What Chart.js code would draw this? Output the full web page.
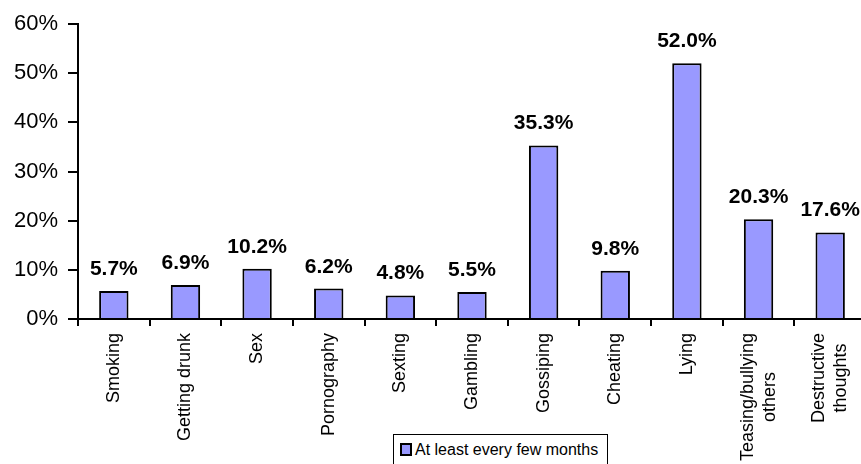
<!DOCTYPE html>
<html>
<head>
<meta charset="utf-8">
<script src="https://cdn.jsdelivr.net/npm/chart.js@4.4.0/dist/chart.umd.min.js"></script>
<style>
  html, body { margin: 0; padding: 0; background: #fff; overflow: hidden; }
  #wrap { position: absolute; left: 0; top: 0; width: 870px; height: 464px; }
  #legend {
    position: absolute; left: 393px; top: 434px; width: 215px; height: 34px;
    border: 1px solid #000; box-sizing: border-box; background: #fff;
    font-family: "Liberation Sans", Arial, sans-serif; font-size: 16px; color: #000;
  }
  #legend .sw {
    position: absolute; left: 6px; top: 8px; width: 8px; height: 9px;
    background: #9999FF; border: 2px solid #000;
  }
  #legend .txt { position: absolute; left: 21px; top: 6px; white-space: nowrap; }
</style>
</head>
<body>
<div id="wrap"><canvas id="chart"></canvas></div>
<div id="legend"><span class="sw"></span><span class="txt">At least every few months</span></div>
<script>
// Categories and values (percent)
const categories = [
    ['Smoking'], ['Getting drunk'], ['Sex'], ['Pornography'], ['Sexting'],
    ['Gambling'], ['Gossiping'], ['Cheating'], ['Lying'],
    ['Teasing/bullying', 'others'], ['Destructive', 'thoughts']
];
const values = [5.7, 6.9, 10.2, 6.2, 4.8, 5.5, 35.3, 9.8, 52.0, 20.3, 17.6];
const seriesName = 'At least every few months';
const yTicks = [0, 10, 20, 30, 40, 50, 60];

const FONT = '"Liberation Sans", Arial, sans-serif';

// Value labels above the bars
const valueLabels = {
    id: 'valueLabels',
    afterDatasetsDraw(chart) {
        const ctx = chart.ctx;
        const meta = chart.getDatasetMeta(0);
        ctx.save();
        ctx.font = 'bold 21px ' + FONT;
        ctx.fillStyle = '#000';
        ctx.textAlign = 'center';
        ctx.textBaseline = 'alphabetic';
        meta.data.forEach((bar, i) => {
            ctx.fillText(values[i].toFixed(1) + '%', bar.x, bar.y - 16);
        });
        ctx.restore();
    }
};

// Rotated category labels, extra lines centred on the longest one
const xLabels = {
    id: 'xLabels',
    afterDraw(chart) {
        const ctx = chart.ctx;
        const xScale = chart.scales.x;
        const top = chart.chartArea.bottom + 14;
        const lineH = 22;
        ctx.save();
        ctx.font = '18px ' + FONT;
        ctx.fillStyle = '#000';
        ctx.textAlign = 'center';
        ctx.textBaseline = 'middle';
        categories.forEach((lines, i) => {
            const cx = xScale.getPixelForValue(i);
            const maxW = Math.max(...lines.map(l => ctx.measureText(l).width));
            ctx.save();
            ctx.translate(cx, top);
            ctx.rotate(-Math.PI / 2);
            lines.forEach((l, j) => {
                ctx.fillText(l, -maxW / 2, (j - (lines.length - 1) / 2) * lineH);
            });
            ctx.restore();
        });
        ctx.restore();
    }
};

new Chart(document.getElementById('chart'), {
    type: 'bar',
    data: {
        labels: categories.map(c => c.join(' ')),
        datasets: [{
            label: seriesName,
            data: values,
            backgroundColor: '#9999FF',
            borderColor: '#000',
            borderWidth: 2,
            borderSkipped: 'bottom',
            barPercentage: 0.41,
            categoryPercentage: 1
        }]
    },
    options: {
        responsive: true,
        maintainAspectRatio: false,
        animation: false,
        layout: { padding: { top: 24, right: 4, bottom: 0, left: 0 } },
        plugins: {
            legend: { display: false },
            tooltip: { enabled: false }
        },
        scales: {
            x: {
                grid: {
                    display: true,
                    offset: true,
                    drawOnChartArea: false,
                    drawTicks: true,
                    tickLength: 7,
                    color: '#000',
                    lineWidth: 2
                },
                border: { display: true, color: '#000', width: 2 },
                ticks: { display: false },
                afterFit(scale) { scale.height = 145; }
            },
            y: {
                min: 0,
                max: 60,
                afterBuildTicks(scale) { scale.ticks = yTicks.map(v => ({ value: v })); },
                grid: {
                    display: true,
                    drawOnChartArea: false,
                    drawTicks: true,
                    tickLength: 10,
                    color: '#000',
                    lineWidth: 2
                },
                border: { display: true, color: '#000', width: 2 },
                ticks: {
                    padding: 10,
                    color: '#000',
                    font: { family: FONT, size: 22 },
                    callback: v => v + '%'
                },
                afterFit(scale) { scale.width = 78; }
            }
        }
    },
    plugins: [valueLabels, xLabels]
});
</script>
</body>
</html>
